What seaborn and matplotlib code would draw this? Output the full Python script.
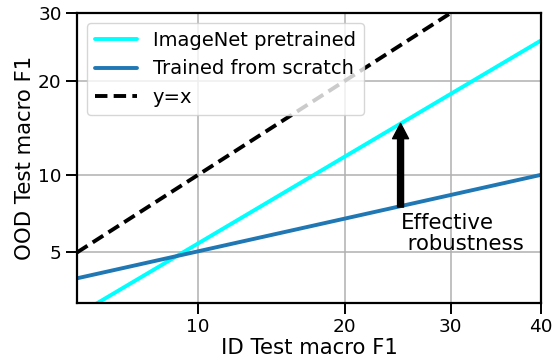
import numpy as np
import pandas as pd
import matplotlib
matplotlib.use("Agg")
import matplotlib.pyplot as plt
import seaborn as sns
from statistics import NormalDist
from matplotlib.ticker import FixedLocator, NullLocator, FuncFormatter

# ---- data (percent macro F1) ----
id_f1 = [5, 40]
pretrained_ood = [2.63, 25.7]
scratch_ood = [3.87, 10.0]
diag = [5, 40]
arrow_x = 25
arrow_from = 7.6
arrow_to = 14.9
xticks = [10, 20, 30, 40]
yticks = [5, 10, 20, 30]

sns.set_style("white")
plt.rcParams["font.family"] = ["DejaVu Sans"]
plt.rcParams["text.color"] = "black"
plt.rcParams["axes.labelcolor"] = "black"
plt.rcParams["xtick.color"] = "black"
plt.rcParams["ytick.color"] = "black"

_nd = NormalDist()
_fwd = np.vectorize(lambda t: _nd.inv_cdf(min(max(t / 100.0, 1e-9), 1 - 1e-9)), otypes=[float])
_inv = np.vectorize(lambda z: 100.0 * _nd.cdf(z), otypes=[float])

def fwd(v):
    return _fwd(np.asarray(v, dtype=float))

def inv(v):
    return _inv(np.asarray(v, dtype=float))

fig, ax = plt.subplots(figsize=(5.58, 3.64), dpi=100)
fig.subplots_adjust(left=0.138, right=0.9695, top=0.964, bottom=0.168)

ax.set_xscale("function", functions=(fwd, inv))
ax.set_yscale("function", functions=(fwd, inv))

df = pd.DataFrame({"id": id_f1, "pre": pretrained_ood, "scr": scratch_ood, "diag": diag})
sns.lineplot(data=df, x="id", y="pre", ax=ax, color="#00FFFF", lw=2.8, label="ImageNet pretrained")
sns.lineplot(data=df, x="id", y="scr", ax=ax, color="#1f77b4", lw=2.8, label="Trained from scratch")
sns.lineplot(data=df, x="id", y="diag", ax=ax, color="black", lw=2.8, ls=(0, (3.2, 1.6)), label="y=x")

ax.annotate("", xy=(arrow_x, arrow_to), xytext=(arrow_x, arrow_from),
            arrowprops=dict(facecolor="black", edgecolor="black", width=4.3,
                            headwidth=11.5, headlength=11, shrink=0))
ax.text(arrow_x, 6.0, "Effective\n robustness", ha="left", va="center", fontsize=15.3,
        linespacing=1.05)

ax.set_xlim(5, 40)
ax.set_ylim(3, 30)
ax.xaxis.set_major_locator(FixedLocator(xticks))
ax.yaxis.set_major_locator(FixedLocator(yticks))
ax.xaxis.set_minor_locator(NullLocator())
ax.yaxis.set_minor_locator(NullLocator())
fmt = FuncFormatter(lambda v, p: f"{v:.0f}")
ax.xaxis.set_major_formatter(fmt)
ax.yaxis.set_major_formatter(fmt)
ax.tick_params(axis="both", which="major", direction="out", length=8, width=1.4,
               labelsize=13.3, pad=3, color="black", bottom=True, left=True)
ax.grid(True, color="#b0b0b0", lw=1.1)
for s in ax.spines.values():
    s.set_color("black")
    s.set_linewidth(1.6)
ax.set_xlabel("ID Test macro F1", fontsize=15.3, labelpad=1)
ax.set_ylabel("OOD Test macro F1", fontsize=15.3, labelpad=2)
ax.legend(loc="upper left", fontsize=14, handlelength=2.2, framealpha=0.8)

fig.savefig("out.png", dpi=100)
